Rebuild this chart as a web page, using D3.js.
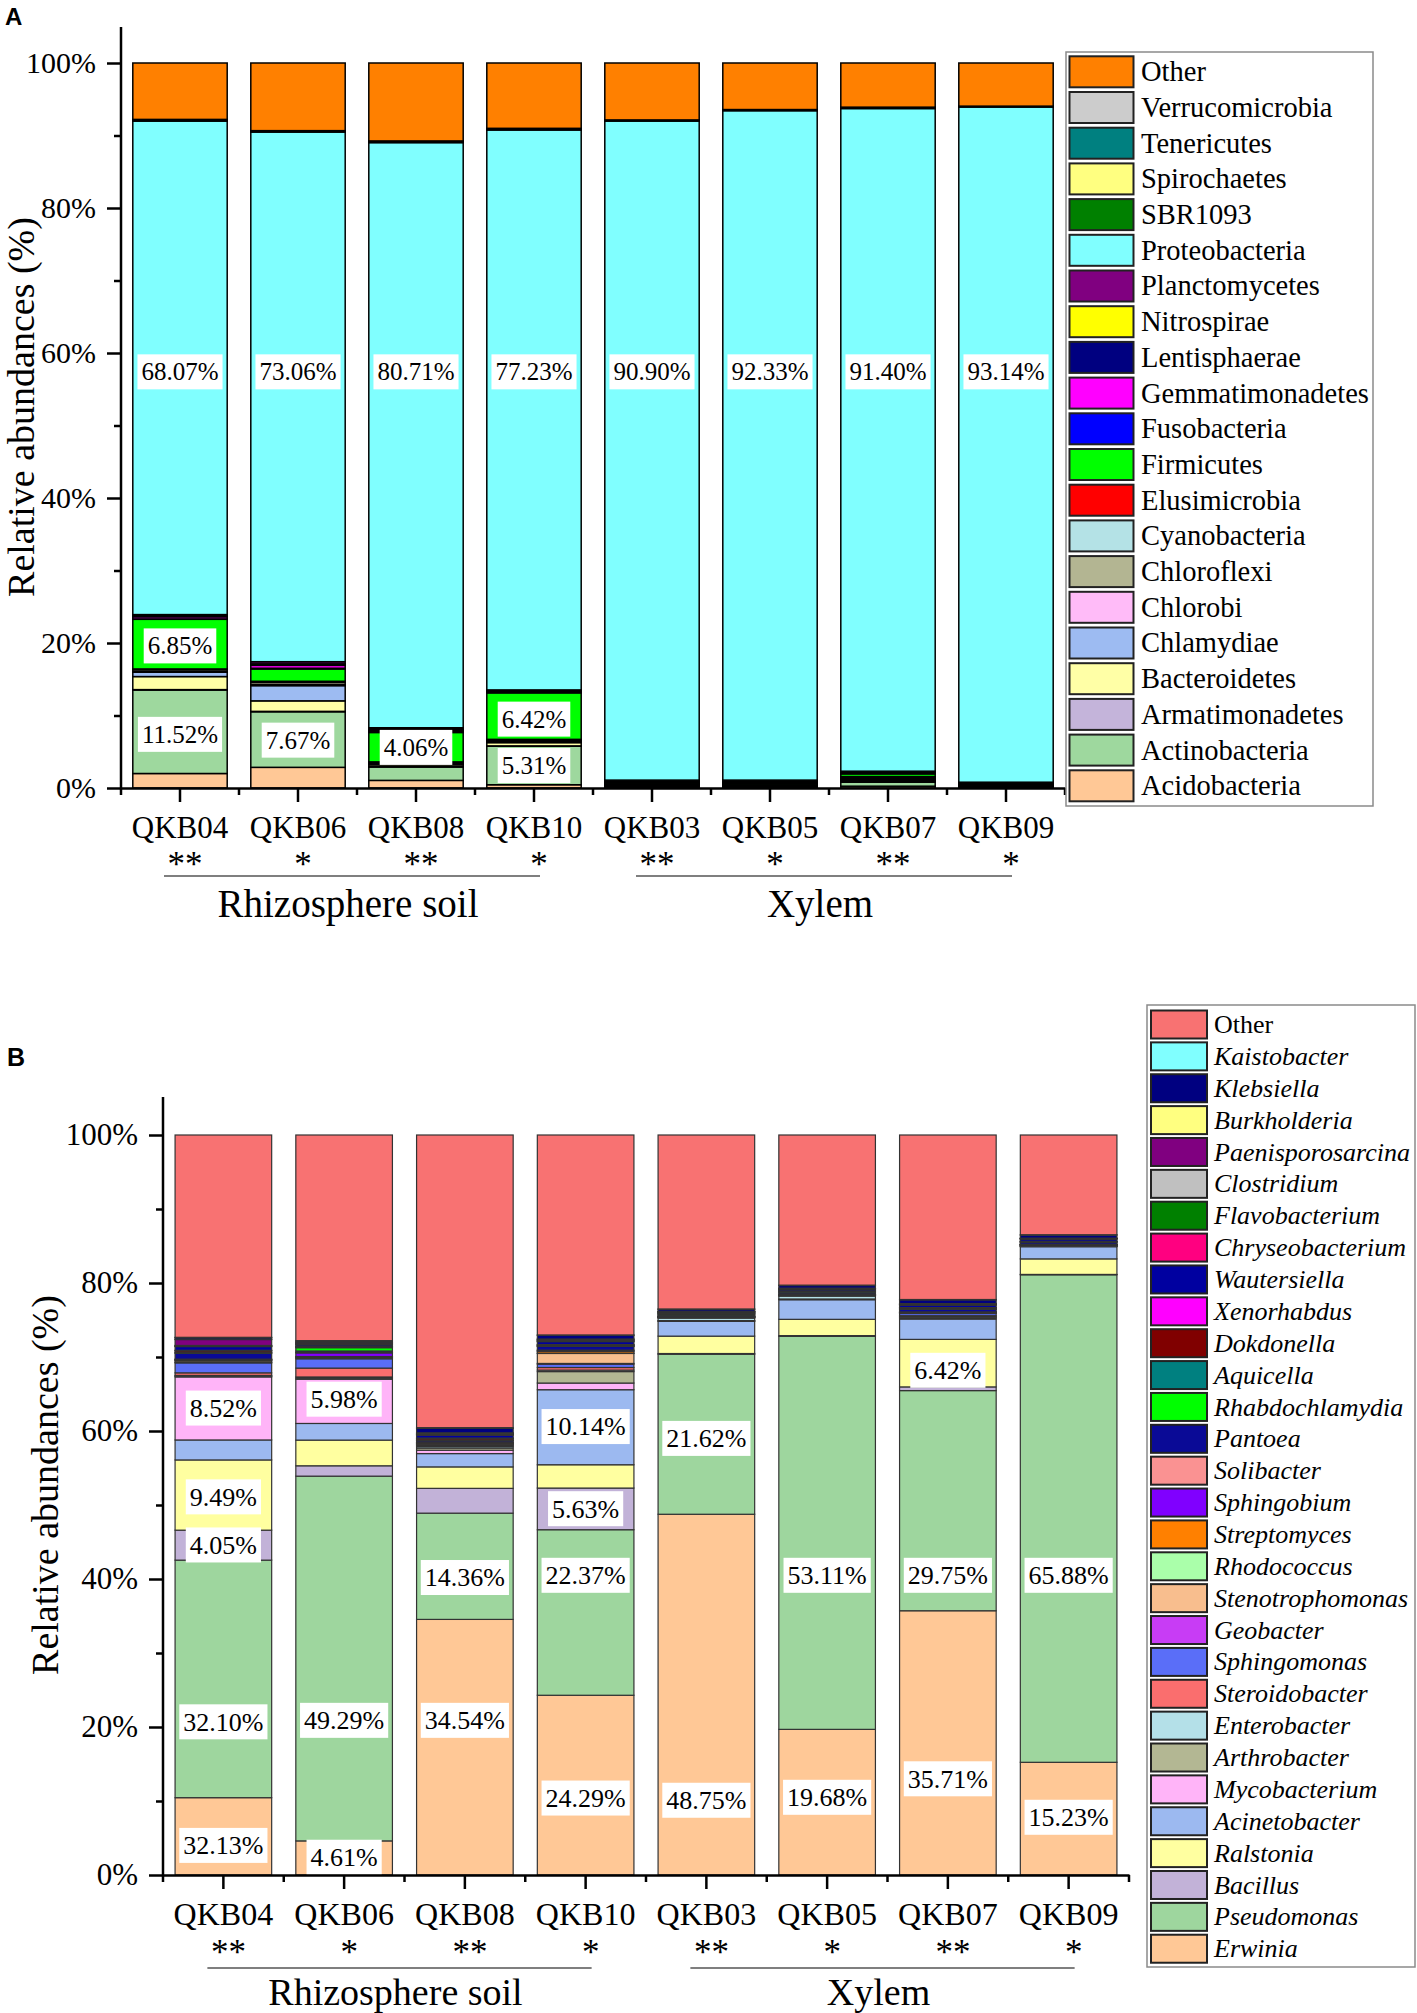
<!DOCTYPE html>
<html><head><meta charset="utf-8">
<script src="https://cdn.jsdelivr.net/npm/d3@7"></script>
<style>
body{margin:0;background:#fff}
svg{display:block}
text{font-family:"Liberation Serif","Times New Roman",serif;fill:#000}
</style>
</head><body>
<svg id="chart" width="1417" height="2013"></svg>
<script>
// ---------- shared categories ----------
const samples = ["QKB04","QKB06","QKB08","QKB10","QKB03","QKB05","QKB07","QKB09"];
const stars = ["**","*","**","*","**","*","**","*"];
const groupNames = ["Rhizosphere soil","Xylem"];
const groupFrom = [0,4];
const groupTo = [3,7];
const yTicks = [0,20,40,60,80,100];
const yMinorTicks = [10,30,50,70,90];

// ---------- panel A : phyla (stack order bottom -> top) ----------
const phyla = ["Acidobacteria","Actinobacteria","Armatimonadetes","Bacteroidetes","Chlamydiae","Chlorobi","Chloroflexi","Cyanobacteria","Elusimicrobia","Firmicutes","Fusobacteria","Gemmatimonadetes","Lentisphaerae","Nitrospirae","Planctomycetes","Proteobacteria","SBR1093","Spirochaetes","Tenericutes","Verrucomicrobia","Other"];
const phylaColors = ["#FFC896","#9ED89E","#C4B4DA","#FFFFA6","#9DBBF2","#FFBBF8","#B3B592","#B4E2E6","#FF0000","#00FF00","#0000FF","#FF00FF","#000080","#FFFF00","#800080","#80FFFF","#008000","#FFFF80","#008080","#CCCCCC","#FF8000"];
const phylaQKB04 = [2.00,11.52,0.05,1.80,0.60,0.10,0.25,0.05,0.05,6.85,0.05,0.30,0.05,0.05,0.20,68.07,0.10,0.05,0.03,0.05,7.78];
const phylaQKB06 = [2.85,7.67,0.05,1.45,2.10,0.15,0.30,0.10,0.05,1.70,0.10,0.40,0.10,0.10,0.30,73.06,0.08,0.03,0.03,0.05,9.33];
const phylaQKB08 = [1.05,1.85,0.05,0.25,0.10,0.05,0.15,0.05,0.05,4.06,0.10,0.10,0.15,0.10,0.20,80.71,0.10,0.05,0.03,0.05,10.75];
const phylaQKB10 = [0.45,5.31,0.05,0.45,0.10,0.05,0.20,0.05,0.05,6.42,0.05,0.10,0.10,0.05,0.10,77.23,0.10,0.05,0.03,0.05,9.01];
const phylaQKB03 = [0.10,0.20,0.02,0.10,0.05,0.02,0.10,0.05,0.02,0.15,0.05,0.05,0.05,0.03,0.10,90.90,0.10,0.02,0.02,0.02,7.85];
const phylaQKB05 = [0.05,0.15,0.02,0.05,0.03,0.02,0.15,0.05,0.02,0.10,0.05,0.05,0.10,0.05,0.20,92.33,0.10,0.02,0.02,0.02,6.42];
const phylaQKB07 = [0.25,0.55,0.10,0.15,0.10,0.10,0.15,0.10,0.08,0.37,0.07,0.07,0.08,0.07,0.08,91.40,0.10,0.03,0.03,0.03,6.09];
const phylaQKB09 = [0.03,0.05,0.03,0.05,0.05,0.03,0.05,0.05,0.05,0.08,0.05,0.05,0.10,0.05,0.08,93.14,0.05,0.02,0.02,0.02,5.95];
// value labels: sample, text, value-axis anchor (%)
const phylaLabelSample = ["QKB04","QKB04","QKB04","QKB06","QKB06","QKB08","QKB08","QKB10","QKB10","QKB10","QKB03","QKB05","QKB07","QKB09"];
const phylaLabelText   = ["68.07%","6.85%","11.52%","73.06%","7.67%","80.71%","4.06%","77.23%","6.42%","5.31%","90.90%","92.33%","91.40%","93.14%"];
const phylaLabelAt     = [57.4,19.6,7.4,57.4,6.6,57.4,5.6,57.4,9.5,3.1,57.4,57.4,57.4,57.4];

// ---------- panel B : genera (stack order bottom -> top) ----------
const genera = ["Erwinia","Pseudomonas","Bacillus","Ralstonia","Acinetobacter","Mycobacterium","Arthrobacter","Enterobacter","Steroidobacter","Sphingomonas","Geobacter","Stenotrophomonas","Rhodococcus","Streptomyces","Sphingobium","Solibacter","Pantoea","Rhabdochlamydia","Aquicella","Dokdonella","Xenorhabdus","Wautersiella","Chryseobacterium","Flavobacterium","Clostridium","Paenisporosarcina","Burkholderia","Klebsiella","Kaistobacter","Other"];
const generaColors = ["#FFC896","#9ED69E","#C2B2D8","#FFFFA0","#9CB9F0","#FFB4F8","#B3B793","#B4E0E8","#FA6E6E","#5A6EF8","#C83CF5","#F8BE8E","#AAFFAA","#FF8000","#8000FF","#FA9292","#0A0A96","#00FF00","#008080","#800000","#FF00FF","#0000A0","#FF0080","#008000","#C0C0C0","#800080","#FFFF80","#000080","#80FFFF","#F87272"];
const generaQKB04 = [10.45,32.10,4.05,9.49,2.70,8.52,0.10,0.10,0.35,1.35,0.05,0.20,0.10,0.05,0.05,0.05,0.80,0.05,0.10,0.20,0.05,0.50,0.05,0.05,0.05,0.80,0.05,0.20,0.05,27.34];
const generaQKB06 = [4.61,49.29,1.40,3.47,2.25,5.98,0.15,0.15,1.20,1.26,0.10,0.10,0.05,0.05,0.50,0.05,0.20,0.45,0.05,0.10,0.05,0.20,0.05,0.10,0.05,0.10,0.05,0.15,0.05,27.79];
const generaQKB08 = [34.54,14.36,3.35,2.90,1.80,0.45,0.30,0.20,0.15,0.10,0.05,0.10,0.05,0.05,0.05,0.05,0.20,0.05,0.05,0.20,0.05,0.40,0.05,0.05,0.05,0.10,0.05,0.60,0.10,39.55];
const generaQKB10 = [24.29,22.37,5.63,3.15,10.14,0.90,1.55,0.20,0.35,0.45,0.10,1.35,0.05,0.25,0.05,0.10,0.50,0.05,0.05,0.10,0.05,0.40,0.05,0.10,0.05,0.10,0.05,0.50,0.05,27.02];
const generaQKB03 = [48.75,21.62,0.10,2.35,2.00,0.05,0.05,0.35,0.03,0.05,0.02,0.05,0.02,0.02,0.02,0.02,0.15,0.02,0.15,0.03,0.02,0.15,0.02,0.05,0.02,0.03,0.05,0.25,0.05,23.51];
const generaQKB05 = [19.68,53.11,0.10,2.20,2.65,0.05,0.05,0.40,0.03,0.05,0.02,0.05,0.02,0.02,0.02,0.02,0.20,0.02,0.20,0.03,0.02,0.20,0.02,0.05,0.02,0.03,0.05,0.35,0.05,20.29];
const generaQKB07 = [35.71,29.75,0.50,6.42,2.75,0.15,0.10,0.15,0.05,0.30,0.05,0.05,0.02,0.05,0.02,0.02,0.35,0.02,0.15,0.05,0.02,0.35,0.02,0.05,0.02,0.05,0.05,0.50,0.05,22.23];
const generaQKB09 = [15.23,65.88,0.05,2.10,1.65,0.03,0.03,0.10,0.02,0.03,0.02,0.03,0.02,0.02,0.02,0.02,0.25,0.02,0.05,0.05,0.02,0.30,0.02,0.03,0.02,0.03,0.03,0.40,0.05,13.48];
const generaLabelSample = ["QKB04","QKB04","QKB04","QKB04","QKB04","QKB06","QKB06","QKB06","QKB08","QKB08","QKB10","QKB10","QKB10","QKB10","QKB03","QKB03","QKB05","QKB05","QKB07","QKB07","QKB07","QKB09","QKB09"];
const generaLabelText   = ["32.13%","32.10%","4.05%","9.49%","8.52%","4.61%","49.29%","5.98%","34.54%","14.36%","24.29%","22.37%","5.63%","10.14%","48.75%","21.62%","19.68%","53.11%","35.71%","29.75%","6.42%","15.23%","65.88%"];
const generaLabelAt     = [4.0,20.7,44.6,51.1,63.1,2.4,20.9,64.3,20.9,40.2,10.4,40.5,49.5,60.6,10.1,59.0,10.5,40.5,13.0,40.5,68.2,7.8,40.5];

// ---------- drawing ----------
const svg = d3.select("#chart");

function drawPanel(p) {
  const g = svg.append("g");
  const x = d3.scaleBand().domain(samples).range([p.x0, p.x1]).paddingInner(0.2).paddingOuter(0.1);
  const y = d3.scaleLinear().domain([0, 100]).range([p.yBottom, p.yTop]);
  const table = samples.map((s, i) => {
    const o = {sample: s};
    p.taxa.forEach((t, j) => { o[t] = p.rows[i][j]; });
    return o;
  });
  const series = d3.stack().keys(p.taxa)(table);

  // bars
  g.append("g").selectAll("g").data(series).join("g")
    .attr("fill", (d, i) => p.colors[i])
    .selectAll("rect").data(d => d).join("rect")
    .attr("x", d => x(d.data.sample))
    .attr("width", x.bandwidth())
    .attr("y", d => y(d[1]))
    .attr("height", d => Math.max(0, y(d[0]) - y(d[1])))
    .attr("stroke", p.barStroke)
    .attr("stroke-width", p.barStrokeWidth);

  // value labels
  const lg = g.append("g");
  p.labelSample.forEach((s, i) => {
    const cx = x(s) + x.bandwidth() / 2;
    const cy = y(p.labelAt[i]);
    const r = lg.append("rect").attr("fill", "#fff");
    const t = lg.append("text").attr("x", cx).attr("y", cy).attr("dy", "0.34em")
      .attr("text-anchor", "middle").style("font-size", p.labelFont + "px").text(p.labelText[i]);
    const w = t.node().getComputedTextLength();
    r.attr("x", cx - w / 2 - 4).attr("y", cy - 17.5).attr("width", w + 8).attr("height", 35);
  });

  // y axis
  const ya = g.append("g").attr("transform", `translate(${p.x0},0)`)
    .call(d3.axisLeft(y).tickValues(yTicks).tickSize(14).tickPadding(11).tickFormat(d => d + "%"));
  ya.select(".domain").remove();
  ya.attr("font-family", null);
  ya.selectAll("text").style("font-size", p.tickFont + "px");
  ya.selectAll("line").attr("stroke-width", 2.5);
  const ym = g.append("g").attr("transform", `translate(${p.x0},0)`)
    .call(d3.axisLeft(y).tickValues(yMinorTicks).tickSize(7).tickFormat(""));
  ym.select(".domain").remove();
  ym.selectAll("line").attr("stroke-width", 2.5);
  g.append("line").attr("x1", p.x0).attr("x2", p.x0).attr("y1", p.axisTop).attr("y2", y(0) + 1.25)
    .attr("stroke", "#000").attr("stroke-width", 2.5);

  // x axis
  const xa = g.append("g").attr("transform", `translate(0,${y(0)})`)
    .call(d3.axisBottom(x).tickSize(14).tickSizeOuter(0));
  xa.attr("font-family", null);
  xa.select(".domain").attr("stroke-width", 2.5);
  xa.selectAll("line").attr("stroke-width", 2.5);
  xa.selectAll("text").attr("y", p.xLabelBaseline - y(0)).attr("dy", null)
    .style("font-size", p.xLabelFont + "px");
  g.append("g").selectAll("line").data(d3.range(samples.length + 1)).join("line")
    .attr("x1", k => p.x0 + k * x.step()).attr("x2", k => p.x0 + k * x.step())
    .attr("y1", y(0)).attr("y2", y(0) + 7).attr("stroke", "#000").attr("stroke-width", 2.5);

  // significance stars
  g.append("g").selectAll("text").data(samples).join("text")
    .attr("x", s => x(s) + x.bandwidth() / 2 + 5).attr("y", p.starBaseline)
    .attr("text-anchor", "middle").style("font-size", "35px")
    .text((s, i) => stars[i]);

  // groups
  groupNames.forEach((name, gi) => {
    const xs = x(samples[groupFrom[gi]]) + x.bandwidth() / 2 - 16;
    const xe = x(samples[groupTo[gi]]) + x.bandwidth() / 2 + 6;
    g.append("line").attr("x1", xs).attr("x2", xe).attr("y1", p.groupLineY).attr("y2", p.groupLineY)
      .attr("stroke", "#555").attr("stroke-width", 1.6);
    g.append("text").attr("x", (xs + xe) / 2 - 4).attr("y", p.groupBaseline)
      .attr("text-anchor", "middle").style("font-size", p.groupFont + "px").text(name);
  });

  // y title
  g.append("text").attr("transform", `translate(${p.yTitleX},${p.yTitleY}) rotate(-90)`)
    .attr("text-anchor", "middle").style("font-size", "38px").text("Relative abundances (%)");

  // panel letter
  g.append("text").attr("x", p.letterX).attr("y", p.letterY)
    .style("font-family", '"Liberation Sans", Arial, sans-serif').style("font-weight", "bold")
    .style("font-size", p.letterSize + "px").text(p.letter);

  // legend
  const L = p.legend;
  const leg = g.append("g");
  leg.append("rect").attr("x", L.x).attr("y", L.y).attr("width", L.w).attr("height", L.h)
    .attr("fill", "#fff").attr("stroke", "#8a8a8a").attr("stroke-width", 1.5);
  const order = p.taxa.map((t, i) => i).reverse();
  order.forEach((ti, r) => {
    const cy = L.rowStart + r * L.rowStep;
    leg.append("rect").attr("x", L.swX).attr("y", cy - L.swH / 2).attr("width", L.swW).attr("height", L.swH)
      .attr("fill", p.colors[ti]).attr("stroke", "#222").attr("stroke-width", 2);
    leg.append("text").attr("x", L.textX).attr("y", cy + L.font * 0.33)
      .style("font-size", L.font + "px")
      .style("font-style", (L.italic && p.taxa[ti] !== "Other") ? "italic" : "normal")
      .text(p.taxa[ti]);
  });
}

drawPanel({
  taxa: phyla, colors: phylaColors,
  rows: [phylaQKB04, phylaQKB06, phylaQKB08, phylaQKB10, phylaQKB03, phylaQKB05, phylaQKB07, phylaQKB09],
  labelSample: phylaLabelSample, labelText: phylaLabelText, labelAt: phylaLabelAt,
  x0: 121, x1: 1065, yBottom: 788, yTop: 63, axisTop: 27,
  barStroke: "#000", barStrokeWidth: 1.5,
  labelFont: 25, tickFont: 30, xLabelFont: 31, xLabelBaseline: 838,
  starBaseline: 876, groupLineY: 876, groupBaseline: 917, groupFont: 39,
  yTitleX: 34, yTitleY: 407,
  letter: "A", letterX: 5, letterY: 25, letterSize: 24,
  legend: {x: 1066, y: 52, w: 307, h: 754, swX: 1069.5, swW: 64, swH: 31,
           rowStart: 71.8, rowStep: 35.7, textX: 1141, font: 28.5, italic: false}
});

drawPanel({
  taxa: genera, colors: generaColors,
  rows: [generaQKB04, generaQKB06, generaQKB08, generaQKB10, generaQKB03, generaQKB05, generaQKB07, generaQKB09],
  labelSample: generaLabelSample, labelText: generaLabelText, labelAt: generaLabelAt,
  x0: 163, x1: 1129, yBottom: 1875, yTop: 1135, axisTop: 1097,
  barStroke: "#333", barStrokeWidth: 1.2,
  labelFont: 26, tickFont: 31, xLabelFont: 32, xLabelBaseline: 1925,
  starBaseline: 1964, groupLineY: 1968, groupBaseline: 2004.5, groupFont: 38,
  yTitleX: 58, yTitleY: 1485,
  letter: "B", letterX: 7, letterY: 1066, letterSize: 25,
  legend: {x: 1147, y: 1005, w: 268, h: 962, swX: 1151, swW: 56, swH: 28,
           rowStart: 1024.5, rowStep: 31.87, textX: 1214, font: 26, italic: true}
});
</script>
</body></html>
